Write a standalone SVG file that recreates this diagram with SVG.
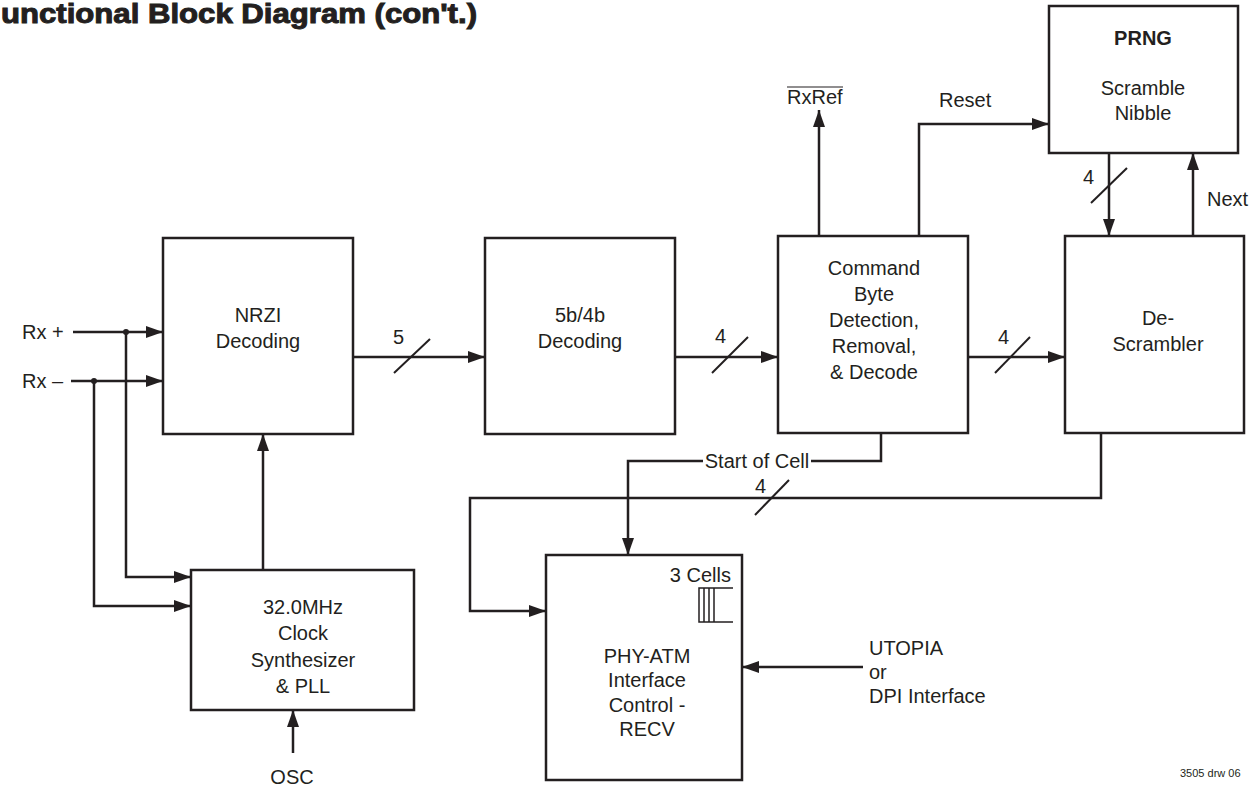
<svg xmlns="http://www.w3.org/2000/svg" width="1256" height="786" viewBox="0 0 1256 786">
<style>
.t{font-family:"Liberation Sans",Arial,sans-serif;font-size:20px;fill:#231f20}
.c{text-anchor:middle}
.box{fill:#fff;stroke:#231f20;stroke-width:2.5}
.ln{fill:none;stroke:#231f20;stroke-width:2.5}
.sl{fill:none;stroke:#231f20;stroke-width:2}
</style>
<defs>
<marker id="ah" markerUnits="userSpaceOnUse" markerWidth="18" markerHeight="12" refX="17" refY="6" orient="auto"><path d="M0,0 L17,6 L0,12 Z" fill="#231f20"/></marker>
</defs>
<rect width="1256" height="786" fill="#fff"/>
<text x="1" y="23" font-family="Liberation Sans,Arial,sans-serif" font-weight="bold" font-size="27" fill="#231f20" stroke="#231f20" stroke-width="1" textLength="476" lengthAdjust="spacingAndGlyphs">unctional Block Diagram (con't.)</text>

<g id="connectors">
<path class="ln" d="M73,332 H163" marker-end="url(#ah)"/>
<path class="ln" d="M71,381 H163" marker-end="url(#ah)"/>
<path class="ln" d="M126,332 V577 H191" marker-end="url(#ah)"/>
<path class="ln" d="M94,381 V606 H191" marker-end="url(#ah)"/>
<circle cx="126" cy="332" r="3" fill="#231f20"/>
<circle cx="94" cy="381" r="3" fill="#231f20"/>
<path class="ln" d="M263,570 V434" marker-end="url(#ah)"/>
<path class="ln" d="M293,753 V710" marker-end="url(#ah)"/>
<path class="ln" d="M353,357 H485" marker-end="url(#ah)"/>
<path class="sl" d="M394,373 L430,339"/>
<path class="ln" d="M675,357 H778" marker-end="url(#ah)"/>
<path class="sl" d="M712,373 L748,337"/>
<path class="ln" d="M968,357 H1065" marker-end="url(#ah)"/>
<path class="sl" d="M995,373 L1030,337"/>
<path class="ln" d="M819,236 V110" marker-end="url(#ah)"/>
<path class="ln" d="M919,236 V124 H1049" marker-end="url(#ah)"/>
<path class="ln" d="M1109,153 V236" marker-end="url(#ah)"/>
<path class="sl" d="M1091,203 L1127,168"/>
<path class="ln" d="M1193,236 V153" marker-end="url(#ah)"/>
<path class="ln" d="M881,433 V461 H628 V555" marker-end="url(#ah)"/>
<path class="ln" d="M1101,433 V498 H470 V611 H546" marker-end="url(#ah)"/>
<path class="sl" d="M755,515 L789,480"/>
<path class="ln" d="M863,667 H742" marker-end="url(#ah)"/>
<rect x="703" y="451" width="108" height="22" fill="#fff"/>
<text class="t c" x="757" y="468">Start of Cell</text>
<text class="t" x="393" y="344">5</text>
<text class="t" x="715" y="343">4</text>
<text class="t" x="998" y="344">4</text>
<text class="t" x="1083" y="184">4</text>
<text class="t" x="755" y="493">4</text>
<text class="t" x="787" y="104">RxRef</text>
<line x1="787" y1="87" x2="843" y2="87" stroke="#231f20" stroke-width="1.2"/>
<text class="t" x="939" y="107">Reset</text>
<text class="t" x="1207" y="206">Next</text>
<text class="t" x="22" y="339">Rx +</text>
<text class="t" x="22" y="388">Rx –</text>
<text class="t c" x="292" y="784">OSC</text>
<text class="t" x="869" y="655">UTOPIA</text>
<text class="t" x="869" y="679">or</text>
<text class="t" x="869" y="703">DPI Interface</text>
</g>

<g id="nrzi">
<rect class="box" x="163" y="238" width="190" height="196"/>
<text class="t c" x="258" y="322">NRZI</text>
<text class="t c" x="258" y="348">Decoding</text>
</g>
<g id="dec54">
<rect class="box" x="485" y="238" width="190" height="196"/>
<text class="t c" x="580" y="322">5b/4b</text>
<text class="t c" x="580" y="348">Decoding</text>
</g>
<g id="cmd">
<rect class="box" x="778" y="236" width="190" height="197"/>
<text class="t c" x="874" y="275">Command</text>
<text class="t c" x="874" y="301">Byte</text>
<text class="t c" x="874" y="327">Detection,</text>
<text class="t c" x="874" y="353">Removal,</text>
<text class="t c" x="874" y="379">&amp; Decode</text>
</g>
<g id="descr">
<rect class="box" x="1065" y="236" width="179" height="197"/>
<text class="t c" x="1158" y="325">De-</text>
<text class="t c" x="1158" y="351">Scrambler</text>
</g>
<g id="prng">
<rect class="box" x="1049" y="6" width="189" height="147"/>
<text class="t c" x="1143" y="45" font-weight="bold">PRNG</text>
<text class="t c" x="1143" y="95">Scramble</text>
<text class="t c" x="1143" y="120">Nibble</text>
</g>
<g id="clock">
<rect class="box" x="191" y="570" width="223" height="140"/>
<text class="t c" x="303" y="614">32.0MHz</text>
<text class="t c" x="303" y="640">Clock</text>
<text class="t c" x="303" y="667">Synthesizer</text>
<text class="t c" x="303" y="693">&amp; PLL</text>
</g>
<g id="phy">
<rect class="box" x="546" y="555" width="196" height="225"/>
<text class="t" x="731" y="582" text-anchor="end">3 Cells</text>
<path d="M733,588 H699 V622 H733 M704,588 V622 M709,588 V622 M714,588 V622" fill="none" stroke="#231f20" stroke-width="1.5"/>
<text class="t c" x="647" y="663">PHY-ATM</text>
<text class="t c" x="647" y="687">Interface</text>
<text class="t c" x="647" y="712">Control -</text>
<text class="t c" x="647" y="736">RECV</text>
</g>
<text x="1180" y="777" font-family="Liberation Sans,Arial,sans-serif" font-size="11" fill="#231f20">3505 drw 06</text>
</svg>
